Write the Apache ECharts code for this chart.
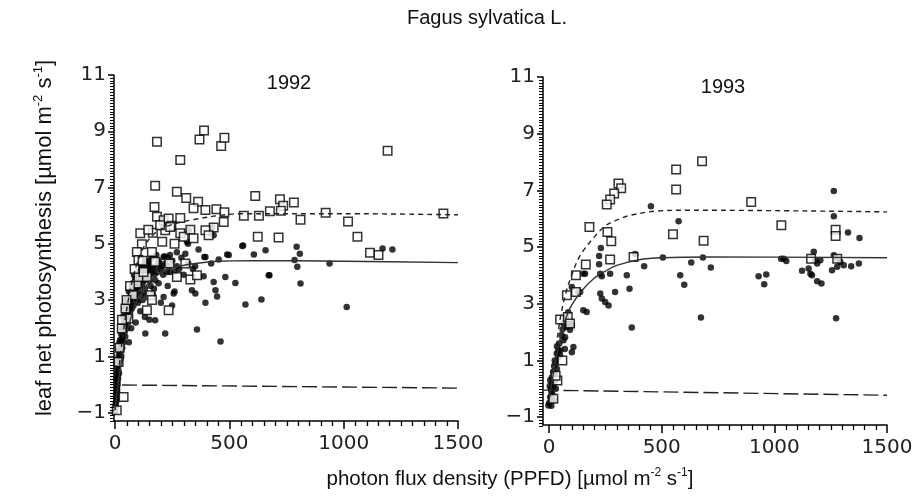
<!DOCTYPE html>
<html><head><meta charset="utf-8">
<script src="https://cdn.jsdelivr.net/npm/echarts@6/dist/echarts.min.js"></script>
<style>html,body{margin:0;padding:0;background:#fff}#c{width:919px;height:499px}</style>
</head><body><div id="c"></div>
<script>
const chartTitle = 'Fagus sylvatica L.';
const years = ['1992', '1993'];
const xTicks = [0, 500, 1000, 1500];
const yTicks = [-1, 1, 3, 5, 7, 9, 11];

// 1992 open squares
const sq1992 = [
[183,8.63],[285,7.98],[369,8.71],[389,9.03],[464,8.48],[478,8.77],[1192,8.31],
[175,7.06],[270,6.85],[311,6.63],[363,6.49],[613,6.70],[721,6.58],[782,6.47],[735,6.35],
[172,6.31],[343,6.26],[395,6.2],[443,6.23],[478,6.12],[563,6.0],[629,6.0],[677,6.16],[725,6.17],[921,6.1],[1436,6.08],
[811,5.85],[1019,5.79],[475,5.77],[431,5.58],[285,5.92],[183,5.96],[212,5.84],[234,5.9],
[110,5.37],[165,5.39],[117,4.98],[246,5.64],[285,5.37],[300,5.25],[329,5.5],[343,5.2],[219,5.48],[241,5.6],[197,5.66],
[624,5.25],[715,5.22],[1060,5.25],[1115,4.68],[1152,4.6],
[95,4.71],[102,4.42],[161,4.71],[175,4.36],[206,5.07],[395,5.48],[409,5.3],
[237,4.3],[307,4.3],[95,3.59],[102,3.82],[139,3.82],[124,4.0],[270,3.82],[329,3.73],[358,3.88],
[78,3.17],[154,3.17],[161,3.0],[139,2.64],[234,2.64],[58,2.34],[29,1.99],[15,0.8],[37,-0.45],[7,-0.92],
[45,2.7],[65,3.5],[20,1.3],[30,2.3],[50,3.0],[85,4.1],[120,4.4],[145,5.5],[260,5.0]
];
// 1992 filled dots
const dot1992 = [
[0,-0.95],[3,-0.8],[5,-0.6],[4,-0.4],[7,-0.3],[8,-0.1],[10,0.1],[6,0.2],[12,0.3],[14,0.5],[10,0.6],[16,0.7],[18,0.9],[15,1.0],
[20,1.1],[22,1.3],[25,1.2],[19,1.5],[28,1.4],[30,1.6],[26,1.8],[33,1.7],[35,2.0],[40,1.9],[38,2.2],[45,2.1],[50,2.3],[42,2.5],
[55,2.5],[60,2.7],[48,2.8],[65,2.6],[70,2.9],[58,3.0],[75,3.1],[80,2.8],[85,3.2],[68,3.3],[90,3.4],[95,3.0],[100,3.5],[78,3.6],
[105,3.3],[110,3.7],[88,3.8],[120,3.6],[125,3.9],[98,4.0],[130,3.4],[140,3.8],[145,4.1],[150,3.7],[160,4.0],[118,4.2],[170,3.9],
[180,4.2],[135,4.4],[190,3.6],[200,4.1],[210,3.9],[220,4.3],[160,4.5],[240,4.0],[250,4.4],[270,4.2],[290,4.5],[300,3.9],[320,4.3],
[340,4.1],[120,3.0],[110,2.6],[130,2.4],[150,2.3],[175,2.28],[132,1.81],[219,1.81],[90,2.2],[60,1.5],[70,2.0],[100,2.9],[200,2.9],
[165,3.2],[230,3.5],[260,3.3],
[2,-0.7],[6,-0.5],[9,-0.2],[11,0.0],[13,0.2],[9,0.4],[17,0.4],[13,0.8],[20,0.8],[24,0.9],[17,1.2],[23,1.6],[27,1.0],[31,1.3],
[36,1.5],[29,2.0],[34,2.4],[44,1.7],[52,2.0],[47,2.4],[40,2.7],[56,2.2],[62,2.4],[53,2.9],[66,3.0],[73,2.7],[82,3.4],[72,3.5],
[92,3.1],[86,3.6],[97,3.8],[106,3.5],[115,3.9],[128,3.7],[112,4.0],[136,4.0],[148,3.9],[155,4.2],[165,4.1],[175,3.7],[185,4.0],
[195,4.3],[205,4.2],[225,4.0],[235,4.2],[260,4.0],[105,4.3],[125,4.2],[140,4.3],[60,3.3],[45,3.0],[82,3.9],[230,4.5],[150,4.4],
[190,4.4],[115,3.2],[135,3.2],[155,3.5],[170,3.4],
[212,4.53],[307,4.65],[365,4.8],[390,4.53],[490,4.62],[560,4.94],[607,4.62],[658,4.77],[794,4.89],[808,4.65],[1170,4.83],[1213,4.8],
[319,5.0],[417,5.37],[424,5.6],[431,5.3],[314,5.07],[205,5.84],[322,5.48],[640,3.02],[675,3.88],[785,4.42],[797,4.18],[811,3.59],
[938,4.3],[1013,2.75],[387,3.85],[431,3.64],[439,3.35],[446,3.13],[482,3.82],[526,3.61],[395,2.9],[570,2.84],[672,3.88],[358,1.95],
[461,1.53],[336,3.35],[351,3.23],[249,2.81],[256,3.23],[212,3.11],[453,4.44],[497,4.6],[395,4.53],[556,4.92],[216,4.56],[280,4.1],
[350,4.2],[420,4.3],[270,4.7],[240,4.6],[180,4.6]
];
const fitSq1992 = [[0,-0.9],[20,0.8],[40,2.1],[60,3.1],[80,3.85],[100,4.4],[130,4.95],[170,5.35],[220,5.6],[280,5.75],[350,5.87],[450,6.0],[550,6.07],[1000,6.07],[1500,6.03]];
const fitDot1992 = [[0,-0.9],[20,0.4],[40,1.4],[60,2.1],[80,2.65],[100,3.05],[130,3.45],[170,3.8],[220,4.05],[280,4.2],[350,4.3],[450,4.38],[600,4.4],[1000,4.38],[1500,4.33]];
const resp1992 = [[30,-0.02],[1500,-0.13]];

// 1993 open squares
const sq1993 = [
[679,8.03],[564,7.74],[564,7.03],[308,7.24],[320,7.07],[289,6.89],[271,6.68],[256,6.5],[897,6.59],[179,5.71],[259,5.53],[276,5.2],
[550,5.45],[686,5.22],[1031,5.77],[1272,5.61],[1272,5.39],[375,4.65],[271,4.56],[163,4.38],[119,4.0],[79,3.3],[119,3.41],
[49,2.44],[83,2.53],[93,2.3],[59,1.0],[37,0.29],[19,-0.35],[29,0.46],[1163,4.59],[1279,4.59]
];
// 1993 filled dots
const dot1993 = [
[452,6.44],[575,5.91],[230,4.97],[222,4.68],[1264,6.98],[1264,6.09],[1327,5.51],[1378,5.32],[382,4.75],[505,4.63],[683,4.63],[1041,4.59],
[1175,4.83],[1264,4.71],[1279,4.59],[1293,4.47],[1256,4.18],[1279,4.3],[1308,4.36],[1341,4.32],
[222,4.39],[227,4.06],[234,3.97],[271,4.06],[160,4.06],[101,3.59],[130,3.41],[227,3.36],[234,3.18],[249,3.06],[264,2.94],[293,3.41],
[345,4.0],[357,3.53],[367,2.16],[422,4.32],[582,4.0],[600,3.67],[631,4.45],[718,4.28],[674,2.51],[152,2.77],[167,2.71],[101,2.24],
[93,2.08],[108,1.47],[101,1.29],[64,2.3],[71,1.82],[64,1.71],[41,1.35],[49,1.18],[930,3.97],[964,4.03],[955,3.69],[1030,4.59],
[1053,4.51],[1123,4.16],[1152,4.24],[1160,4.06],[1167,4.0],[1190,3.79],[1209,3.71],[1182,4.53],[1204,4.53],[1190,4.42],[1274,2.49],
[1375,4.42],[138,3.41],[152,4.06],[79,2.18],[93,2.3],[34,1.24],[49,1.35],
[0,-0.5],[5,-0.3],[10,-0.6],[8,0.0],[15,0.2],[12,0.4],[20,0.1],[18,0.6],[25,0.5],[22,0.8],[30,0.9],[28,0.3],[35,0.7],[15,-0.2],
[5,0.3],[25,1.0],[40,1.1],[35,1.5],[45,1.6],[55,1.9],[60,2.1],[75,2.5],[85,2.7],[70,1.4],[10,-0.1],[3,0.1],[20,-0.4],[30,0.0],[-3,-0.59]
];
const fitSq1993 = [[0,-0.4],[25,1.1],[50,2.5],[75,3.4],[100,4.0],[125,4.5],[150,4.85],[200,5.35],[250,5.75],[300,5.95],[360,6.12],[480,6.27],[630,6.3],[1500,6.24]];
const fitDot1993 = [[0,-0.4],[25,0.8],[50,1.8],[75,2.5],[100,2.95],[150,3.5],[200,3.9],[250,4.15],[300,4.35],[400,4.55],[500,4.62],[700,4.65],[1500,4.62]];
const resp1993 = [[-25,-0.05],[1500,-0.23]];

// minor tick positions (axis decoration)
const minorX = [];
for (let v = 50; v < 1500; v += 50) if (v % 500 !== 0) minorX.push(v);
const minorY = [];
for (let k = -13; k <= 110; k += 1) { const v = k / 10; if (!yTicks.includes(v)) minorY.push(v); }

const ink = '#000';
const tickFont = { fontFamily: 'DejaVu Sans', fontSize: 20, color: '#222' };
const plain = v => String(v).replace('-', '\u2212');
const panels = [{ xMin: -5, yMin: -1.3 }, { xMin: -27, yMin: -1.28 }];

function xAxis(grid, min) {
  return { gridIndex: grid, type: 'value', position: 'bottom', min: min, max: 1500,
    axisLine: { show: true, onZero: false, lineStyle: { color: ink, width: 1.5 } },
    axisTick: { show: true, customValues: xTicks, length: 8, lineStyle: { color: ink, width: 1.5 } },
    axisLabel: Object.assign({ customValues: xTicks, margin: 13, formatter: plain }, tickFont),
    splitLine: { show: false } };
}
function yAxis(grid, min) {
  return { gridIndex: grid, type: 'value', position: 'left', min: min, max: 11,
    axisLine: { show: true, onZero: false, lineStyle: { color: ink, width: 1.5 } },
    axisTick: { show: true, customValues: yTicks, length: 6, lineStyle: { color: ink, width: 1.5 } },
    axisLabel: Object.assign({ customValues: yTicks, margin: 8, formatter: plain }, tickFont),
    splitLine: { show: false } };
}

function panelSeries(ai, sq, dot, fitSq, fitDot, resp) {
  return [
    { type: 'scatter', xAxisIndex: ai, yAxisIndex: ai, data: dot, symbol: 'circle', symbolSize: 6.5,
      itemStyle: { color: ink }, z: 2, silent: true },
    { type: 'scatter', xAxisIndex: ai, yAxisIndex: ai, data: sq, symbol: 'rect', symbolSize: 8.5,
      itemStyle: { color: '#fff', borderColor: ink, borderWidth: 1.5 }, z: 3, silent: true },
    { type: 'line', xAxisIndex: ai, yAxisIndex: ai, data: fitSq, smooth: 0.35, showSymbol: false, z: 4,
      lineStyle: { color: '#222', width: 1.4, type: [5, 4] }, silent: true },
    { type: 'line', xAxisIndex: ai, yAxisIndex: ai, data: fitDot, smooth: 0.35, showSymbol: false, z: 4,
      lineStyle: { color: '#333', width: 1.4 }, silent: true },
    { type: 'line', xAxisIndex: ai, yAxisIndex: ai, data: resp, showSymbol: false, z: 4,
      lineStyle: { color: '#222', width: 1.4, type: [15, 5] }, silent: true }
  ];
}

function nameRich(size) {
  return {
    n: { fontFamily: 'Liberation Sans', fontSize: size, lineHeight: size + 4, fill: '#111' },
    s: { fontFamily: 'Liberation Sans', fontSize: Math.round(size * 0.6), lineHeight: Math.round(size * 0.6), verticalAlign: 'top', fill: '#111' }
  };
}
const unitText = '{n|[\u00b5mol m}{s|-2}{n| s}{s|-1}{n|]}';

const textGraphics = [
  { type: 'text', x: 487, y: 18, style: { text: chartTitle, font: '20px "Liberation Sans"', fill: '#111', textAlign: 'center', textVerticalAlign: 'middle' } },
  { type: 'text', x: 289, y: 83, style: { text: years[0], font: '20px "Liberation Sans"', fill: '#111', textAlign: 'center', textVerticalAlign: 'middle' } },
  { type: 'text', x: 723, y: 87, style: { text: years[1], font: '20px "Liberation Sans"', fill: '#111', textAlign: 'center', textVerticalAlign: 'middle' } },
  { type: 'text', x: 510, y: 479, style: { text: '{n|photon flux density (PPFD) }' + unitText, rich: nameRich(20.5), textAlign: 'center', textVerticalAlign: 'middle' } },
  { type: 'text', x: 45, y: 238, rotation: Math.PI / 2, style: { text: '{n|leaf net photosynthesis }' + unitText, rich: nameRich(22), textAlign: 'center', textVerticalAlign: 'middle' } }
];

const chart = echarts.init(document.getElementById('c'), null, { renderer: 'canvas' });
chart.setOption({
  animation: false,
  backgroundColor: '#fff',
  grid: [
    { left: 114, top: 75, width: 344, height: 346 },
    { left: 543, top: 77, width: 344, height: 348 }
  ],
  xAxis: [xAxis(0, panels[0].xMin), xAxis(1, panels[1].xMin)],
  yAxis: [yAxis(0, panels[0].yMin), yAxis(1, panels[1].yMin)],
  series: [].concat(
    panelSeries(0, sq1992, dot1992, fitSq1992, fitDot1992, resp1992),
    panelSeries(1, sq1993, dot1993, fitSq1993, fitDot1993, resp1993)
  ),
  graphic: { elements: textGraphics }
});

// minor ticks placed through the chart's own axis scales
const tickGraphics = [];
panels.forEach((pn, gi) => {
  minorX.forEach(v => {
    const p = chart.convertToPixel({ gridIndex: gi }, [v, pn.yMin]);
    if (p) tickGraphics.push({ type: 'line', silent: true, z: 10,
      shape: { x1: Math.round(p[0]) + 0.5, y1: p[1], x2: Math.round(p[0]) + 0.5, y2: p[1] + 5 }, style: { stroke: ink, lineWidth: 1.3 } });
  });
  minorY.forEach(v => {
    const p = chart.convertToPixel({ gridIndex: gi }, [pn.xMin, v]);
    if (p) tickGraphics.push({ type: 'line', silent: true, z: 10,
      shape: { x1: p[0] - 4, y1: Math.round(p[1]) + 0.5, x2: p[0], y2: Math.round(p[1]) + 0.5 }, style: { stroke: ink, lineWidth: 1 } });
  });
});
chart.setOption({ graphic: { elements: textGraphics.concat(tickGraphics) } });
</script>
</body></html>
